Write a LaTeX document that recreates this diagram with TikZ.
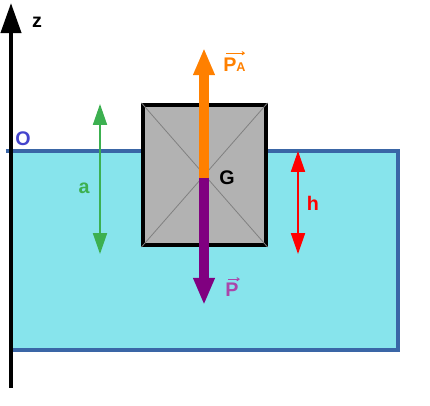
\documentclass[tikz,border=0pt]{standalone}
\usepackage{fontspec}
\setmainfont{Liberation Sans}
\usetikzlibrary{arrows.meta}
\definecolor{water}{RGB}{135,228,236}
\definecolor{waterline}{RGB}{58,102,166}
\definecolor{boxgray}{RGB}{178,178,178}
\definecolor{paorange}{RGB}{255,128,0}
\definecolor{ppurple}{RGB}{128,0,128}
\definecolor{plabel}{RGB}{170,70,170}
\definecolor{agreen}{RGB}{60,176,80}
\definecolor{oblue}{RGB}{68,68,204}
\tikzset{
  lbl/.style={font=\fontsize{14}{16}\selectfont\bfseries, inner sep=0pt},
  force/.style={line width=0.225cm, -{Triangle[width=0.5cm,length=0.68cm]}},
  measure/.style={line width=0.04cm, {Triangle[width=0.35cm,length=0.52cm]}-{Triangle[width=0.35cm,length=0.52cm]}},
  vecarrow/.style={line width=0.025cm, -{To[length=0.08cm,width=0.1cm]}}
}
\begin{document}
\begin{tikzpicture}[x=0.025cm,y=-0.025cm]
            \useasboundingbox (0,0) rectangle (430,406);
            % water
            \fill [water] (11,151) rectangle (398,350);
            \draw [waterline, line width=0.09cm] (6,151) -- (398,151) -- (398,350) -- (11,350);
            % z axis
            \coordinate (zbot) at (11,388);
            \coordinate (ztop) at (11,3);
            \draw [line width=0.1cm, -{Triangle[width=0.5cm,length=0.75cm]}] (zbot) -- (ztop);
            \node [lbl] (zlab) at (37,22) {z};
            \node [lbl, oblue] (olab) at (23,139) {O};
            % body
            \node [draw, line width=0.1cm, fill=boxgray, minimum width=3.05cm, minimum height=3.5cm, inner sep=0pt] (box) at (204.5,175) {};
            \draw [gray, line width=0.02cm] (box.north west) -- (box.south east);
            \draw [gray, line width=0.02cm] (box.north east) -- (box.south west);
            % forces
            \coordinate (G) at (204,178);
            \coordinate (patip) at (204,48);
            \coordinate (ptip) at (204,305);
            \draw [force, paorange] (G) -- (patip);
            \draw [force, ppurple] (G) -- (ptip);
            \node [lbl] (glab) at (227,178) {G};
            \node [lbl, paorange, anchor=base west] (palab) at (223,72) {P{\fontsize{9}{10}\selectfont A}};
            \draw [vecarrow, paorange] ([shift={(3,-5)}]palab.north west) -- ([shift={(-1,-5)}]palab.north east);
            \node [lbl, plabel, anchor=base west] (plab) at (225,297) {P};
            \draw [vecarrow, plabel] ([shift={(3,-4)}]plab.north west) -- ([shift={(1,-4)}]plab.north east);
            % heights
            \coordinate (atop) at (100,104);
            \coordinate (abot) at (100,254);
            \draw [measure, agreen] (atop) -- (abot);
            \node [lbl, agreen] (alab) at (84,188) {a};
            \coordinate (htop) at (298,151);
            \coordinate (hbot) at (298,254);
            \draw [measure, red] (htop) -- (hbot);
            \node [lbl, red] (hlab) at (313,203) {h};
        \end{tikzpicture}
\end{document}
